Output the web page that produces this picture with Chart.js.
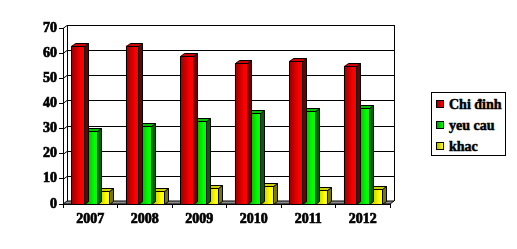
<!DOCTYPE html>
<html lang="vi">
<head>
<meta charset="UTF-8">
<title>Chi dinh / yeu cau / khac</title>
<script src="https://cdn.jsdelivr.net/npm/chart.js"></script>
<style>
  body { margin: 0; background: #fff; }
  .wrap { position: relative; width: 517px; height: 249px; }
  #legend {
    position: absolute; left: 431px; top: 92px; width: 73px; height: 62px;
    border: 1px solid #000; background: #fff;
    font: bold 14px "Liberation Serif", "Times New Roman", serif; color: #000;
    -webkit-text-stroke: 0.5px #000;
  }
  #legend .item { position: absolute; left: 4px; height: 16px; line-height: 16px; white-space: nowrap; }
  #legend .sw { display: inline-block; width: 6px; height: 6px; border: 1px solid #000; vertical-align: 1px; margin-right: 5px; }
</style>
</head>
<body>
<div class="wrap">
  <canvas id="chart" width="517" height="249"></canvas>
  <div id="legend"></div>
</div>
<script>
const years = ['2007', '2008', '2009', '2010', '2011', '2012'];
const chiDinh = [63, 63, 59, 56, 57, 55];
const yeuCau = [29, 31, 33, 36, 37, 38];
const khac = [5, 5, 6.5, 7, 5.5, 6];
const seriesNames = ['Chi đinh', 'yeu cau', 'khac'];
const yTicks = [0, 10, 20, 30, 40, 50, 60, 70];

// front gradient (dark -> light), top face, side face
const shades = [
  { dark: '#9a0000', light: '#ff0000', top: '#d00000', side: '#700000' },
  { dark: '#009a00', light: '#00ff00', top: '#00c000', side: '#006400' },
  { dark: '#b4b400', light: '#ffff00', top: '#d0d000', side: '#787800' }
];
const DX = 4, DY = 3;
const font = { family: '"Liberation Serif", "Times New Roman", serif', size: 14, weight: 'bold' };

function poly(ctx, pts, fill) {
  ctx.beginPath();
  ctx.moveTo(pts[0][0], pts[0][1]);
  for (let i = 1; i < pts.length; i++) ctx.lineTo(pts[i][0], pts[i][1]);
  ctx.closePath();
  ctx.fillStyle = fill;
  ctx.fill();
  ctx.stroke();
}

const depthPlugin = {
  id: 'depth',
  beforeDatasetsDraw(chart) {
    const { ctx, chartArea: a, scales: { y } } = chart;
    ctx.save();
    ctx.strokeStyle = '#000';
    ctx.lineWidth = 1;
    // floor
    poly(ctx, [[a.left, a.bottom], [a.right, a.bottom], [a.right + DX, a.bottom - DY], [a.left + DX, a.bottom - DY]], '#8c8c8c');
    // back wall grid
    ctx.beginPath();
    yTicks.forEach(v => {
      if (v === 0) return;
      const py = Math.round(y.getPixelForValue(v) - DY) + 0.5;
      ctx.moveTo(a.left + DX, py);
      ctx.lineTo(a.right + DX, py);
      ctx.moveTo(a.left, py + DY);
      ctx.lineTo(a.left + DX, py);
    });
    const bx = Math.round(a.left + DX) + 0.5, rx = Math.round(a.right + DX) + 0.5;
    ctx.moveTo(bx, a.top - DY);
    ctx.lineTo(bx, a.bottom - DY);
    ctx.moveTo(rx, a.top - DY);
    ctx.lineTo(rx, a.bottom - DY);
    ctx.stroke();
    ctx.restore();
  },
  afterDatasetDraw(chart, args) {
    const { ctx } = chart;
    const s = shades[args.index];
    ctx.save();
    ctx.strokeStyle = '#000';
    ctx.lineWidth = 1;
    args.meta.data.forEach(bar => {
      const { x, y, base, width } = bar.getProps(['x', 'y', 'base', 'width'], true);
      const x0 = Math.round(x - width / 2) + 0.5, x1 = Math.round(x + width / 2) + 0.5;
      const top = Math.round(y) + 0.5, bot = Math.round(base) + 0.5;
      // side
      poly(ctx, [[x1, top], [x1 + DX, top - DY], [x1 + DX, bot - DY], [x1, bot]], s.side);
      // top
      poly(ctx, [[x0, top], [x0 + DX, top - DY], [x1 + DX, top - DY], [x1, top]], s.top);
      // front
      const g = ctx.createLinearGradient(x0, 0, x1, 0);
      g.addColorStop(0, s.dark);
      g.addColorStop(0.75, s.light);
      g.addColorStop(1, s.light);
      poly(ctx, [[x0, top], [x1, top], [x1, bot], [x0, bot]], g);
    });
    ctx.restore();
  }
};

const chart = new Chart(document.getElementById('chart'), {
  type: 'bar',
  data: {
    labels: years,
    datasets: [
      { label: seriesNames[0], data: chiDinh, backgroundColor: shades[0].light },
      { label: seriesNames[1], data: yeuCau, backgroundColor: shades[1].light },
      { label: seriesNames[2], data: khac, backgroundColor: shades[2].light }
    ]
  },
  options: {
    responsive: false,
    animation: false,
    events: [],
    layout: { padding: { left: 0, top: 28, right: 127, bottom: 0 } },
    datasets: { bar: { categoryPercentage: 0.69, barPercentage: 1 } },
    plugins: { legend: { display: false }, tooltip: { enabled: false } },
    scales: {
      x: {
        grid: { drawOnChartArea: false, offset: true, tickLength: 4, color: '#000' },
        border: { color: '#000' },
        ticks: { color: '#000', font: font, padding: 3, maxRotation: 0, textStrokeColor: '#000', textStrokeWidth: 0.7 },
        afterFit(scale) { scale.height = 45; }
      },
      y: {
        min: 0, max: 70,
        afterBuildTicks(scale) { scale.ticks = yTicks.map(v => ({ value: v })); },
        grid: { drawOnChartArea: false, tickLength: 4, color: '#000' },
        border: { color: '#000' },
        ticks: { color: '#000', font: font, padding: 2, textStrokeColor: '#000', textStrokeWidth: 0.7 },
        afterFit(scale) { scale.width = 63; }
      }
    }
  },
  plugins: [depthPlugin]
});

// legend built from the chart's datasets
const legend = document.getElementById('legend');
chart.data.datasets.forEach((ds, i) => {
  const item = document.createElement('div');
  item.className = 'item';
  item.style.top = (4 + i * 21) + 'px';
  const sw = document.createElement('span');
  sw.className = 'sw';
  sw.style.background = 'linear-gradient(to right, ' + shades[i].dark + ', ' + shades[i].light + ')';
  item.appendChild(sw);
  item.appendChild(document.createTextNode(ds.label));
  legend.appendChild(item);
});
</script>
</body>
</html>
